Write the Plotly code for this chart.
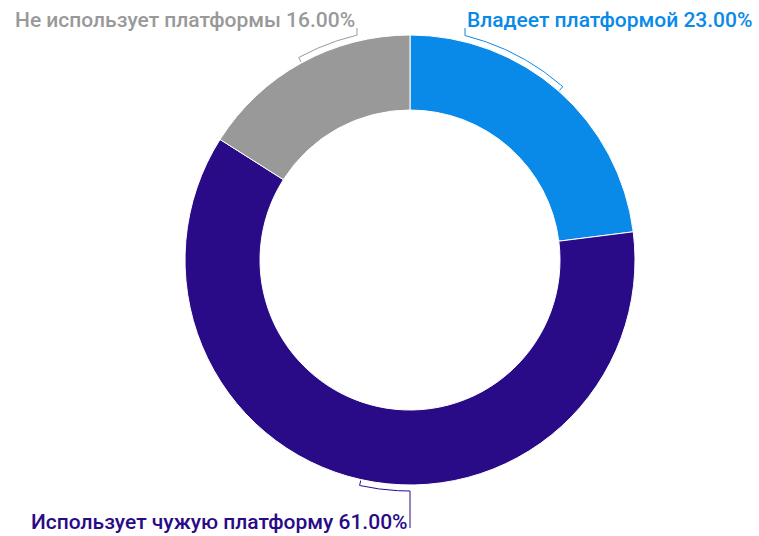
import math
import plotly.graph_objects as go

labels = ["Владеет платформой", "Использует чужую платформу", "Не использует платформы"]
values = [23.0, 61.0, 16.0]
colors = ["#0989e8", "#290b88", "#999999"]

W, H = 759, 536
CX, CY, R = 410, 260, 225
RB = 231  # bracket radius
# label anchor (pixel x, y, xanchor)
label_pos = [
    (465, 20, "left"),
    (410, 522, "right"),
    (357, 20, "right"),
]

fig = go.Figure()
fig.add_trace(go.Pie(
    labels=labels, values=values, hole=150 / 225, sort=False,
    direction="clockwise", rotation=0, textinfo="none", hoverinfo="label+percent",
    marker=dict(colors=colors, line=dict(color="white", width=1)),
    domain=dict(x=[(CX - R) / W, (CX + R) / W], y=[1 - (CY + R) / H, 1 - (CY - R) / H]),
    showlegend=False,
))

total = sum(values)
cum = 0
annotations = []


def pt(a, r):
    t = math.radians(a)
    return CX + r * math.sin(t), CY - r * math.cos(t)


for lab, v, col, (lx, ly, xa) in zip(labels, values, colors, label_pos):
    a0 = cum / total * 360
    cum += v
    a1 = cum / total * 360
    amid = (a0 + a1) / 2
    dx = lx - CX
    s = math.degrees(math.asin(max(-1, min(1, dx / RB))))
    if 90 < amid < 270:
        aend = 180 - s
    else:
        aend = s if s >= 0 or amid < 180 else 360 + s
    if amid > 180 and aend < 90:
        aend += 360
    n = 40
    xs, ys = [], []
    px, py = pt(amid, RB - 5)
    xs.append(px); ys.append(py)
    for i in range(n + 1):
        a = amid + (aend - amid) * i / n
        px, py = pt(a, RB)
        xs.append(px); ys.append(py)
    ex = xs[-1]
    xs.append(ex)
    ys.append(ly + 8 if ly < CY else ly + 6)
    fig.add_trace(go.Scatter(x=xs, y=ys, mode="lines", line=dict(color=col, width=1),
                             hoverinfo="skip", showlegend=False, xaxis="x", yaxis="y"))
    annotations.append(dict(
        x=lx, y=ly, xref="x", yref="y", xanchor=xa, yanchor="middle",
        text=f"{lab} {v / total * 100:.2f}%", showarrow=False,
        font=dict(family="Roboto", size=21, color=col, weight=500),
    ))

fig.update_layout(
    width=W, height=H, margin=dict(l=0, r=0, t=0, b=0),
    paper_bgcolor="white", plot_bgcolor="rgba(0,0,0,0)",
    xaxis=dict(range=[0, W], visible=False, fixedrange=True),
    yaxis=dict(range=[H, 0], visible=False, fixedrange=True),
    annotations=annotations,
)
fig.write_html("out.html", config={"displayModeBar": False},
               post_script="document.body.style.margin='0';")
